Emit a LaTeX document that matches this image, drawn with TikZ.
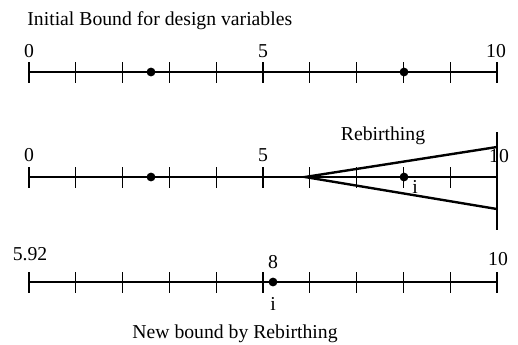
\documentclass[tikz,border=0pt]{standalone}
\usepackage{fontspec}
\setmainfont{Liberation Serif}
\usetikzlibrary{positioning}

\begin{document}
\begin{tikzpicture}[x=0.5pt,y=-0.5pt,
  every node/.style={font=\fontsize{9.85}{11}\selectfont,inner sep=0pt},
  axis/.style={line width=0.75pt},
  tick/.style={line width=0.6pt},
  wedge/.style={line width=1.2pt},
  dot/.style={circle,fill=black,minimum size=4.4pt,inner sep=0pt}]
\useasboundingbox (0,0) rectangle (518,344);
\node[anchor=base west] (title) at (27,25) {Initial Bound for design variables};
% first line
\coordinate (s1) at (29,72);
\coordinate (e1) at (497,72);
\draw[axis] (s1) -- (e1);
\foreach \i in {0,...,10}
  \draw[tick] (29+46.8*\i,62) -- ++(0,21);
\node[anchor=base] (z1) at (29,57) {0};
\node[anchor=base] (f1) at (263,57) {5};
\node[anchor=base] (t1) at (496,57) {10};
\node[dot] (p1) at (151,72) {};
\node[dot] (q1) at (404,72) {};
% second line
\coordinate (s2) at (29,177);
\coordinate (e2) at (497,177);
\draw[axis] (s2) -- (e2);
\foreach \i in {0,...,9}
  \draw[tick] (29+46.8*\i,167) -- ++(0,21);
\coordinate (vt) at (497,132);
\coordinate (vb) at (497,230);
\draw[tick] (vt) -- (vb);
\coordinate (apex) at (305,177);
\coordinate (up) at (497,147);
\coordinate (lo) at (497,209);
\draw[wedge] (up) -- (apex) -- (lo);
\node[anchor=base] (z2) at (29,161) {0};
\node[anchor=base] (f2) at (263,161) {5};
\node[anchor=base] (t2) at (499,162) {10};
\node[anchor=base] (reb) at (383,140) {Rebirthing};
\node[dot] (p2) at (151,177) {};
\node[dot] (q2) at (404,177) {};
\node[anchor=base] (i2) at (415,193) {i};
% third line
\coordinate (s3) at (29,282);
\coordinate (e3) at (497,282);
\draw[axis] (s3) -- (e3);
\foreach \i in {0,...,10}
  \draw[tick] (29+46.8*\i,272) -- ++(0,21);
\node[anchor=base] (z3) at (30,260) {5.92};
\node[anchor=base] (t3) at (498,265) {10};
\node[dot] (q3) at (273,282) {};
\node[anchor=base] (e8) at (273,268) {8};
\node[anchor=base] (i3) at (273,310) {i};
\node[anchor=base] (nb) at (235,338) {New bound by Rebirthing};
\end{tikzpicture}
\end{document}
